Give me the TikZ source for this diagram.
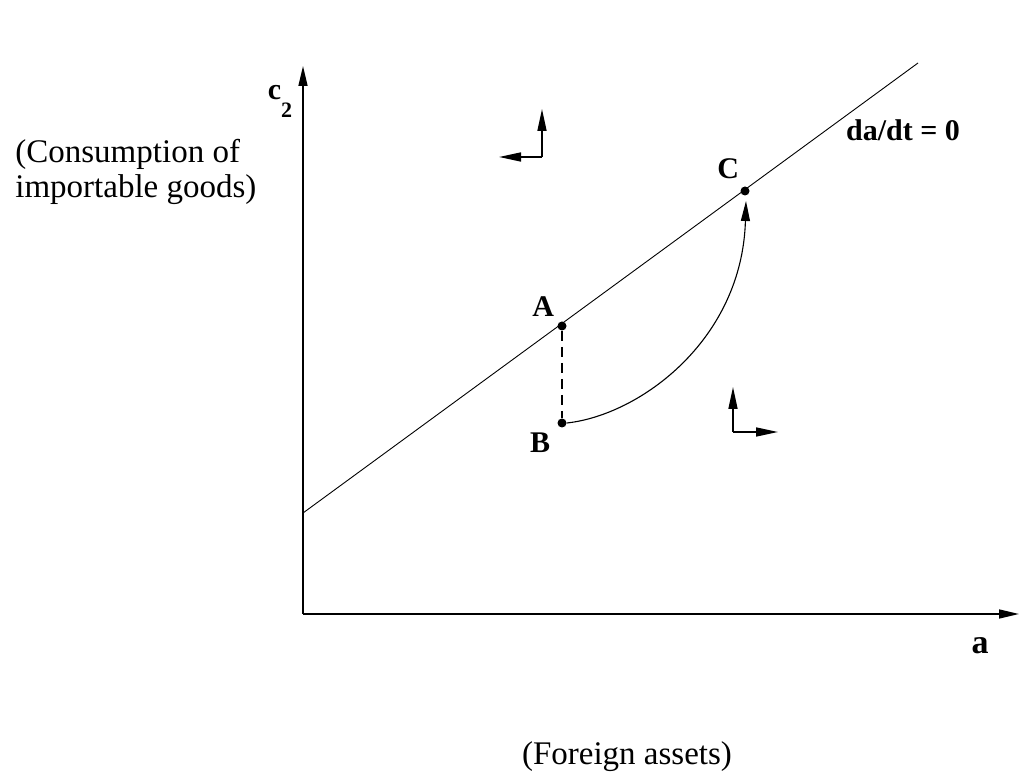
\documentclass[tikz,border=0pt]{standalone}
\usepackage{fontspec}
\setmainfont{Liberation Serif}
\usetikzlibrary{arrows.meta, positioning}

\begin{document}
\begin{tikzpicture}[x=0.5pt, y=-0.5pt,
  axis/.style={line width=0.8pt, -{Triangle[length=10pt, width=4.5pt]}},
  dir/.style={line width=0.8pt, -{Triangle[length=11pt, width=4.5pt]}},
  locus/.style={line width=0.45pt},
  path/.style={line width=0.55pt, -{Triangle[length=10pt, width=4.5pt]}},
  dot/.style={circle, fill=black, inner sep=0pt, minimum size=4.5pt},
  lbl/.style={font=\bfseries\fontsize{15}{18}\selectfont, inner sep=1pt},
  txt/.style={font=\fontsize{16.5}{17.5}\selectfont, inner sep=0pt}]
  \useasboundingbox (0,0) rectangle (1019,780);
  \coordinate (origin) at (303,614);
  \coordinate (ytop) at (303,66);
  \coordinate (xend) at (1019,614);
  \coordinate (lstart) at (303,513);
  \coordinate (lend) at (918,63);
  \node[dot] (A) at (562,326) {};
  \node[dot] (B) at (562,423) {};
  \node[dot] (C) at (745,191) {};
  \draw[axis] (origin) -- (ytop);
  \draw[axis] (origin) -- (xend);
  \draw[locus] (lstart) -- (lend);
  \draw[dashed, dash pattern=on 5pt off 3pt, line width=0.55pt] (A) -- (B);
  \draw[path] (B.east) .. controls (640,415) and (742,340) .. (746,201);
  \node[lbl, above left=2pt and 1pt of A] (lA) {A};
  \node[lbl, below left=2pt and 3pt of B] (lB) {B};
  \node[lbl, above left=3pt and 0pt of C] (lC) {C};
  \node[lbl] (lda) at (903,130) {da/dt = 0};
  \node[lbl] (lc) at (280,101) {c\raisebox{-0.6em}{\fontsize{11}{12}\selectfont 2}};
  \node[lbl, font=\bfseries\fontsize{17}{19}\selectfont] (la) at (980,646) {a};
  \node[txt, align=left, anchor=west] (cons) at (15,172) {(Consumption of\\importable goods)};
  \node[txt] (fa) at (627,757) {(Foreign assets)};
  % directions of motion
  \coordinate (ul) at (542,157);
  \coordinate (lr) at (733,432);
  \draw[dir] (ul) -- (499,157);
  \draw[dir] (ul) -- (542,109);
  \draw[dir] (lr) -- (778,432);
  \draw[dir] (lr) -- (733,387);
\end{tikzpicture}
\end{document}
